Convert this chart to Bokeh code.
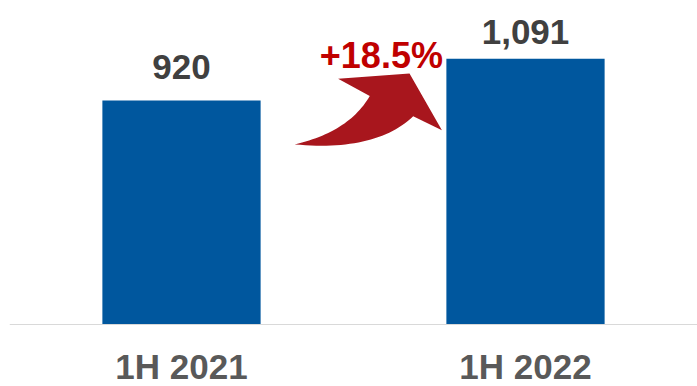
import numpy as np
from bokeh.plotting import figure
from bokeh.models import ColumnDataSource, FactorRange, Range1d, LabelSet, Label, Span
from bokeh.core.properties import value
from bokeh.embed import file_html
from bokeh.resources import INLINE

# Half-year totals
periods = ["1H 2021", "1H 2022"]
totals = [920, 1091]
total_labels = ["920", "1,091"]
growth_label = "+18.5%"

FONT = "Liberation Sans"
BAR_COLOR = "#00579e"
ARROW_COLOR = "#a8161d"
BAR_WIDTH = 0.46

# the value range reaches below zero to leave room for the period names
p = figure(
    width=697, height=386,
    x_range=FactorRange(*periods, range_padding=0),
    y_range=Range1d(-254.5, 1330),
    output_backend="svg", toolbar_location=None,
    x_axis_location=None, y_axis_location=None,
    min_border_left=9, min_border_right=0, min_border_top=0, min_border_bottom=0,
)
p.outline_line_color = None
p.xgrid.visible = False
p.ygrid.visible = False
p.background_fill_color = "white"
p.border_fill_color = "white"

src = ColumnDataSource(dict(period=periods, total=totals, label=total_labels,
                            lift=[21, 15], base=[0, 0]))
p.vbar(x="period", top="total", width=BAR_WIDTH, source=src,
       fill_color=BAR_COLOR, line_color=None)

# baseline
p.add_layout(Span(location=0, dimension="width", line_color="#d9d9d9", line_width=1))

# value labels above bars
p.add_layout(LabelSet(x="period", y="total", text="label", source=src,
                      y_offset="lift", text_align="center", text_baseline="alphabetic",
                      text_font=value(FONT), text_font_style="bold", text_font_size="35px",
                      text_color="#404040"))

# period names under the baseline
p.add_layout(LabelSet(x="period", y="base", text="period", source=src,
                      y_offset=-54, text_align="center", text_baseline="alphabetic",
                      text_font=value(FONT), text_font_style="bold", text_font_size="35px",
                      text_color="#595959"))

# curved growth arrow between the bars (shape in a unit box, placed in data space)
x0, x1 = 0.829, 1.257   # horizontal span (category units)
y0, y1 = 724, 1030      # vertical span (value units)

def bez(p0, c, p2, n=30):
    t = np.linspace(0, 1, n)[:, None]
    return (1 - t) ** 2 * np.array(p0) + 2 * (1 - t) * t * np.array(c) + t ** 2 * np.array(p2)

upper = bez((0.0, 0.05), (0.37, 0.22), (0.51, 0.70))
head = np.array([(0.295, 0.93), (0.78, 1.0), (1.0, 0.24), (0.805, 0.427)])
lower = bez((0.805, 0.427), (0.55, -0.05), (0.0, 0.05))
shape = np.vstack([upper, head, lower[1:]])
p.patch(x0 + shape[:, 0] * (x1 - x0), y0 + shape[:, 1] * (y1 - y0),
        fill_color=ARROW_COLOR, line_color=None)

p.add_layout(Label(x=1.081, y=1104, text=growth_label, text_align="center",
                   text_baseline="alphabetic", text_font=FONT, text_font_style="bold",
                   text_font_size="36px", text_color="#c00000"))

open("out.html", "w").write(file_html(p, INLINE))
